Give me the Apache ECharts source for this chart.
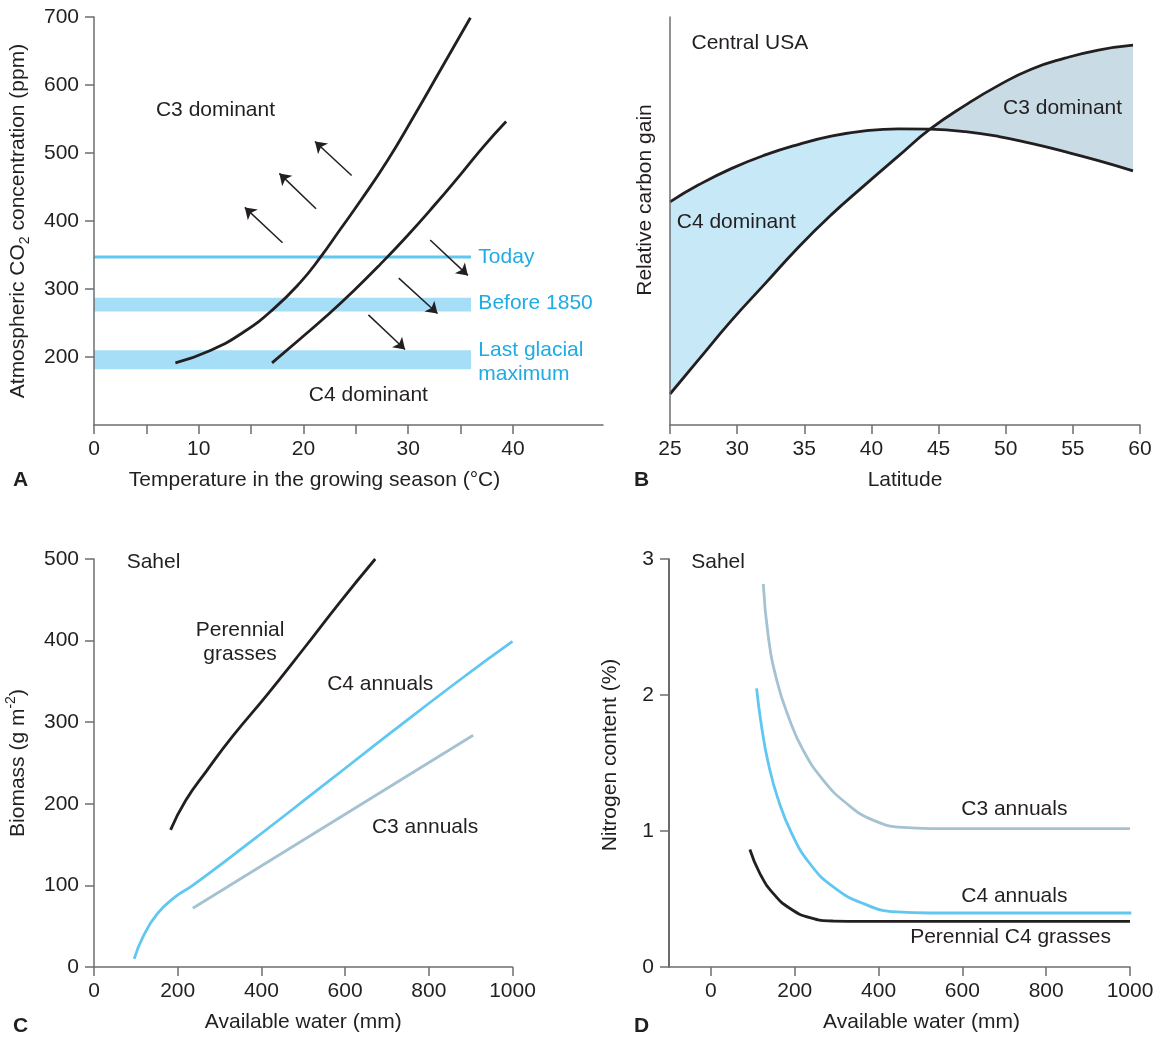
<!DOCTYPE html>
<html>
<head>
<meta charset="utf-8">
<style>
  html, body { margin: 0; padding: 0; background: #ffffff; }
  #chart { width: 1162px; height: 1038px; }
</style>
<script src="https://cdn.jsdelivr.net/npm/echarts@6/dist/echarts.min.js"></script>
</head>
<body>
<div id="chart"></div>
<script>
// ---------- Panel A: CO2 vs growing-season temperature ----------
var aTicksX = [0, 5, 10, 15, 20, 25, 30, 35, 40];
var aLabelsX = [0, 10, 20, 30, 40];
var aTicksY = [200, 300, 400, 500, 600, 700];
var aCurve1Temp = [7.77, 11.11, 14.29, 17.15, 19.70, 21.61, 23.52, 25.43, 27.98, 30.53, 33.08, 35.94];
var aCurve1CO2  = [191.3, 209.7, 236.7, 270.8, 309.8, 346.4, 387.8, 429.3, 487.8, 553.7, 622, 699];
var aCurve2Temp = [17.0, 19.70, 22.25, 24.8, 27.35, 29.9, 32.44, 34.99, 37.21, 39.35];
var aCurve2CO2  = [191.3, 226.9, 261, 297.5, 336.6, 378, 422, 468.3, 509.8, 546.3];
var aTodayCO2 = 347;
var aTodayTempRange = [0, 36];
var aBefore1850 = [267, 287];
var aGlacial = [182, 210];
var aArrowsToC3 = [[[24.6, 467], [21.1, 517]], [[21.2, 418], [17.7, 470]], [[18.0, 368], [14.4, 420]]];
var aArrowsToC4 = [[[32.1, 372], [35.7, 320]], [[29.1, 316], [32.8, 264]], [[26.2, 262], [29.7, 211]]];
var aTextDark = [[11.6, 563, 'C3 dominant'], [26.2, 144, 'C4 dominant']];
var aTextBlue = [[36.7, 347, 'Today'], [36.7, 279, 'Before 1850'], [36.7, 210, 'Last glacial'], [36.7, 174, 'maximum']];

// ---------- Panel B: relative carbon gain vs latitude ----------
var bLatitude = [25, 27.1, 29.6, 32.1, 34.6, 37.0, 39.5, 42.0, 44.36, 47.0, 49.5, 51.9, 54.4, 56.9, 59.48];
var bC4Gain   = [54.7, 58.8, 62.9, 66.2, 68.8, 70.8, 72.1, 72.6, 72.5, 71.9, 70.7, 69.0, 67.0, 64.8, 62.3];
var bC3Gain   = [7.6, 15.9, 25.7, 34.7, 43.7, 51.5, 58.8, 65.9, 72.5, 78.4, 83.3, 87.2, 89.9, 91.9, 93.1];
var bCrossIndex = 8;
var bText = [[26.6, 93.5, 'Central USA'], [49.8, 77.6, 'C3 dominant'], [25.5, 49.8, 'C4 dominant']];

// ---------- Panel C: biomass vs available water ----------
var cPerWater = [183, 219, 270, 330, 416, 501, 586, 672];
var cPerBio   = [168, 204, 241, 282, 335, 390, 446, 500];
var cC4Water  = [96, 117, 151, 194, 236, 373, 544, 714, 885, 1000];
var cC4Bio    = [10, 37, 65, 86, 100, 153, 221, 289, 356, 399];
var cC3Water  = [236, 906];
var cC3Bio    = [72, 284];
var cTextLeft = [[78, 496, 'Sahel']];
var cTextCenter = [[349, 413, 'Perennial'], [349, 383, 'grasses'], [684, 347, 'C4 annuals'], [791, 171, 'C3 annuals']];

// ---------- Panel D: nitrogen content vs available water ----------
var dTicksX = [0, 200, 400, 600, 800, 1000];
var dC3Water = [125, 137, 157, 185, 220, 268, 324, 387, 459, 523, 1000];
var dC3N     = [2.816, 2.428, 2.110, 1.840, 1.595, 1.374, 1.202, 1.080, 1.026, 1.018, 1.018];
var dC4Water = [109, 121, 137, 161, 193, 236, 292, 364, 443, 523, 1003];
var dC4N     = [2.049, 1.766, 1.497, 1.227, 0.981, 0.761, 0.589, 0.466, 0.405, 0.397, 0.397];
var dPerWater = [93, 117, 149, 189, 236, 292, 364, 1000];
var dPerN     = [0.864, 0.687, 0.540, 0.430, 0.363, 0.338, 0.336, 0.336];
var dTextLeft = [[-47, 2.975, 'Sahel']];
var dTextCenter = [[724, 1.16, 'C3 annuals'], [724, 0.52, 'C4 annuals'], [715, 0.216, 'Perennial C4 grasses']];

// ---------- styling ----------
var FONT = "'Liberation Sans', Arial, Helvetica, sans-serif";
var FS = 21;
var TXT = '#231f20';
var AXIS = '#6d6e71';
var BLUE_TXT = '#1fabe3';
var BLUE_LINE = '#5fc7f1';
var GREY_LINE = '#a5c2d2';
var BAND = '#a7def7';
var FILL_C4 = '#c6e8f7';
var FILL_C3 = '#c9dbe5';
var SMOOTH = 0.5;

function zip(xs, ys) { return xs.map(function (x, i) { return [x, ys[i]]; }); }
function plain(v) { return String(v); }

function axisBase(extra) {
  var o = {
    z: 10,
    axisLine: { show: true, onZero: false, lineStyle: { color: AXIS, width: 1.5 } },
    axisTick: { show: true, length: 9, lineStyle: { color: AXIS, width: 1.5 } },
    axisLabel: { color: TXT, fontSize: FS, fontFamily: FONT, margin: 14, formatter: plain },
    splitLine: { show: false },
    nameTextStyle: { color: TXT, fontSize: FS, fontFamily: FONT },
    nameLocation: 'middle'
  };
  for (var k in extra) {
    if (typeof extra[k] === 'object' && o[k] && !Array.isArray(extra[k])) {
      for (var j in extra[k]) o[k][j] = extra[k][j];
    } else o[k] = extra[k];
  }
  return o;
}

function lineSeries(name, xi, data, color, width) {
  return {
    type: 'line', name: name, xAxisIndex: xi, yAxisIndex: xi, data: data,
    smooth: SMOOTH, showSymbol: false, symbol: 'none', silent: true,
    lineStyle: { color: color, width: width }, z: 5
  };
}

function areaSeries(xi, data, color, z) {
  return {
    type: 'line', xAxisIndex: xi, yAxisIndex: xi, data: data,
    smooth: SMOOTH, showSymbol: false, symbol: 'none', silent: true,
    lineStyle: { width: 0, opacity: 0 }, areaStyle: { color: color, opacity: 1, origin: 'start' }, z: z
  };
}

function textSeries(xi, data, align, color) {
  return {
    type: 'scatter', xAxisIndex: xi, yAxisIndex: xi, symbolSize: 0, silent: true, z: 10,
    itemStyle: { opacity: 1 },
    data: data.map(function (d) { return { value: [d[0], d[1]], name: d[2] }; }),
    label: {
      show: true, position: [0, 0], align: align, verticalAlign: 'middle', opacity: 1,
      formatter: function (p) { return p.name; },
      color: color, fontSize: FS, fontFamily: FONT
    }
  };
}

function arrowSeries(arrows) {
  return {
    type: 'lines', coordinateSystem: 'cartesian2d', xAxisIndex: 0, yAxisIndex: 0, silent: true,
    symbol: ['none', 'arrow'], symbolSize: 11, z: 6,
    lineStyle: { color: TXT, width: 1.5, curveness: 0, opacity: 1 },
    data: arrows.map(function (a) { return { coords: a }; })
  };
}

// B: split curves at crossing for the two coloured regions
var bC4Left = zip(bLatitude, bC4Gain).slice(0, bCrossIndex + 1);
var bC3Left = zip(bLatitude, bC3Gain).slice(0, bCrossIndex + 1);
var bC4Right = zip(bLatitude, bC4Gain).slice(bCrossIndex);
var bC3Right = zip(bLatitude, bC3Gain).slice(bCrossIndex);

var chart = echarts.init(document.getElementById('chart'), null, { renderer: 'canvas' });

var option = {
  backgroundColor: '#ffffff',
  animation: false,
  textStyle: { fontFamily: FONT },
  grid: [
    { left: 94, top: 17, width: 509, height: 408 },
    { left: 670, top: 17, width: 470, height: 408 },
    { left: 94, top: 559, width: 418.5, height: 408 },
    { left: 669, top: 559, width: 461, height: 408 }
  ],
  xAxis: [
    axisBase({ gridIndex: 0, type: 'value', min: 0, max: 48.6,
      axisTick: { customValues: aTicksX }, axisLabel: { customValues: aLabelsX },
      name: 'Temperature in the growing season (°C)', nameGap: 45,
      nameTextStyle: { padding: [0, 68, 0, 0] } }),
    axisBase({ gridIndex: 1, type: 'value', min: 25, max: 60, interval: 5,
      name: 'Latitude', nameGap: 45 }),
    axisBase({ gridIndex: 2, type: 'value', min: 0, max: 1000, interval: 200,
      name: 'Available water (mm)', nameGap: 45 }),
    axisBase({ gridIndex: 3, type: 'value', min: -100, max: 1000,
      axisTick: { customValues: dTicksX }, axisLabel: { customValues: dTicksX },
      name: 'Available water (mm)', nameGap: 45,
      nameTextStyle: { padding: [0, 0, 0, 44] } })
  ],
  yAxis: [
    axisBase({ gridIndex: 0, type: 'value', min: 100, max: 700,
      axisTick: { customValues: aTicksY }, axisLabel: { customValues: aTicksY, margin: 15 },
      name: 'Atmospheric CO{sub|2} concentration (ppm)', nameGap: 62,
      nameTextStyle: { lineHeight: 28, rich: { sub: { fontSize: 14, lineHeight: 14, verticalAlign: 'bottom', fontFamily: FONT, color: TXT } } } }),
    axisBase({ gridIndex: 1, type: 'value', min: 0, max: 100,
      axisTick: { show: false }, axisLabel: { show: false },
      name: 'Relative carbon gain', nameGap: 14,
      nameTextStyle: { padding: [0, 0, 0, 42] } }),
    axisBase({ gridIndex: 2, type: 'value', min: 0, max: 500, interval: 100,
      axisLabel: { margin: 15 },
      name: 'Biomass (g m{sup|-2})', nameGap: 62,
      nameTextStyle: { lineHeight: 28, rich: { sup: { fontSize: 14, lineHeight: 14, verticalAlign: 'top', fontFamily: FONT, color: TXT } } } }),
    axisBase({ gridIndex: 3, type: 'value', min: 0, max: 3, interval: 1,
      axisLine: { lineStyle: { color: '#3a3a3c', width: 1.5 } },
      axisLabel: { margin: 15 },
      name: 'Nitrogen content (%)', nameGap: 48,
      nameTextStyle: { padding: [0, 0, 0, 16] } })
  ],
  graphic: [
    { type: 'text', left: 13, top: 470, style: { text: 'A', fontSize: FS, fontWeight: 'bold', fontFamily: FONT, fill: TXT } },
    { type: 'text', left: 634, top: 470, style: { text: 'B', fontSize: FS, fontWeight: 'bold', fontFamily: FONT, fill: TXT } },
    { type: 'text', left: 13, top: 1016, style: { text: 'C', fontSize: FS, fontWeight: 'bold', fontFamily: FONT, fill: TXT } },
    { type: 'text', left: 634, top: 1016, style: { text: 'D', fontSize: FS, fontWeight: 'bold', fontFamily: FONT, fill: TXT } }
  ],
  series: [].concat(
    [{
      type: 'line', xAxisIndex: 0, yAxisIndex: 0, data: [[aTodayTempRange[0], aTodayCO2], [aTodayTempRange[1], aTodayCO2]],
      symbol: 'none', silent: true, lineStyle: { color: BLUE_LINE, width: 3 }, z: 3,
      markArea: {
        silent: true, itemStyle: { color: BAND, opacity: 1 },
        data: [
          [{ xAxis: aTodayTempRange[0], yAxis: aBefore1850[0] }, { xAxis: aTodayTempRange[1], yAxis: aBefore1850[1] }],
          [{ xAxis: aTodayTempRange[0], yAxis: aGlacial[0] }, { xAxis: aTodayTempRange[1], yAxis: aGlacial[1] }]
        ]
      }
    }],
    [lineSeries('c1', 0, zip(aCurve1Temp, aCurve1CO2), TXT, 2.8),
     lineSeries('c2', 0, zip(aCurve2Temp, aCurve2CO2), TXT, 2.8)],
    [arrowSeries(aArrowsToC3), arrowSeries(aArrowsToC4)],
    [textSeries(0, aTextDark, 'center', TXT), textSeries(0, aTextBlue, 'left', BLUE_TXT)],
    [areaSeries(1, bC4Left, FILL_C4, 1),
     areaSeries(1, bC3Right, FILL_C3, 1),
     areaSeries(1, bC3Left, '#ffffff', 2),
     areaSeries(1, bC4Right, '#ffffff', 2)],
    [lineSeries('bC4', 1, zip(bLatitude, bC4Gain), TXT, 2.8),
     lineSeries('bC3', 1, zip(bLatitude, bC3Gain), TXT, 2.8)],
    [textSeries(1, bText, 'left', TXT)],
    [lineSeries('cPer', 2, zip(cPerWater, cPerBio), TXT, 2.8),
     lineSeries('cC4', 2, zip(cC4Water, cC4Bio), BLUE_LINE, 2.8),
     lineSeries('cC3', 2, zip(cC3Water, cC3Bio), GREY_LINE, 2.8)],
    [textSeries(2, cTextLeft, 'left', TXT), textSeries(2, cTextCenter, 'center', TXT)],
    [lineSeries('dC3', 3, zip(dC3Water, dC3N), GREY_LINE, 2.8),
     lineSeries('dC4', 3, zip(dC4Water, dC4N), BLUE_LINE, 2.8),
     lineSeries('dPer', 3, zip(dPerWater, dPerN), TXT, 2.8)],
    [textSeries(3, dTextLeft, 'left', TXT), textSeries(3, dTextCenter, 'center', TXT)]
  )
};

chart.setOption(option);
</script>
</body>
</html>
